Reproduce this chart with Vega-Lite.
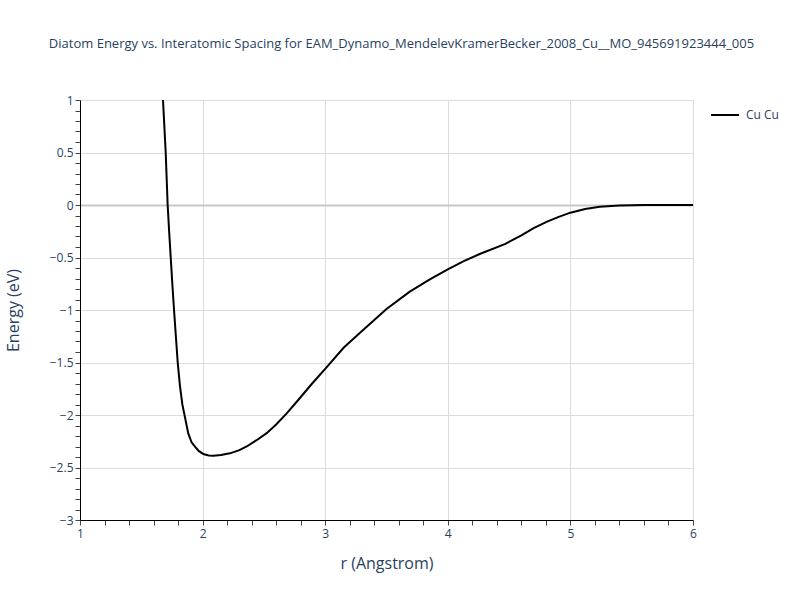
{
  "$schema": "https://vega.github.io/schema/vega-lite/v6.json",
  "width": 613,
  "height": 420,
  "autosize": {"type": "none"},
  "padding": {"left": 80, "top": 100, "right": 107, "bottom": 80},
  "background": "white",
  "config": {
    "view": {"stroke": null},
    "font": "Open Sans"
  },
  "title": {
    "text": "Diatom Energy vs. Interatomic Spacing for EAM_Dynamo_MendelevKramerBecker_2008_Cu__MO_945691923444_005",
    "fontSize": 13,
    "fontWeight": "normal",
    "color": "#2a3f5f",
    "font": "Open Sans",
    "anchor": "middle",
    "frame": "group",
    "dx": 15,
    "offset": 43
  },
  "data": {
    "values": [
      {"r": 1.677, "E": 1.0, "s": "Cu Cu"},
      {"r": 1.688, "E": 0.75, "s": "Cu Cu"},
      {"r": 1.699, "E": 0.5, "s": "Cu Cu"},
      {"r": 1.707, "E": 0.25, "s": "Cu Cu"},
      {"r": 1.715, "E": 0.0, "s": "Cu Cu"},
      {"r": 1.727, "E": -0.25, "s": "Cu Cu"},
      {"r": 1.74, "E": -0.5, "s": "Cu Cu"},
      {"r": 1.753, "E": -0.75, "s": "Cu Cu"},
      {"r": 1.767, "E": -1.0, "s": "Cu Cu"},
      {"r": 1.782, "E": -1.25, "s": "Cu Cu"},
      {"r": 1.797, "E": -1.5, "s": "Cu Cu"},
      {"r": 1.815, "E": -1.72, "s": "Cu Cu"},
      {"r": 1.835, "E": -1.9, "s": "Cu Cu"},
      {"r": 1.856, "E": -2.02, "s": "Cu Cu"},
      {"r": 1.883, "E": -2.175, "s": "Cu Cu"},
      {"r": 1.91, "E": -2.26, "s": "Cu Cu"},
      {"r": 1.938, "E": -2.302, "s": "Cu Cu"},
      {"r": 1.97, "E": -2.345, "s": "Cu Cu"},
      {"r": 2.006, "E": -2.371, "s": "Cu Cu"},
      {"r": 2.05, "E": -2.385, "s": "Cu Cu"},
      {"r": 2.087, "E": -2.387, "s": "Cu Cu"},
      {"r": 2.15, "E": -2.38, "s": "Cu Cu"},
      {"r": 2.223, "E": -2.365, "s": "Cu Cu"},
      {"r": 2.3, "E": -2.335, "s": "Cu Cu"},
      {"r": 2.36, "E": -2.3, "s": "Cu Cu"},
      {"r": 2.44, "E": -2.24, "s": "Cu Cu"},
      {"r": 2.52, "E": -2.175, "s": "Cu Cu"},
      {"r": 2.6, "E": -2.09, "s": "Cu Cu"},
      {"r": 2.686, "E": -1.984, "s": "Cu Cu"},
      {"r": 2.78, "E": -1.857, "s": "Cu Cu"},
      {"r": 2.89, "E": -1.705, "s": "Cu Cu"},
      {"r": 3.0, "E": -1.56, "s": "Cu Cu"},
      {"r": 3.15, "E": -1.36, "s": "Cu Cu"},
      {"r": 3.3, "E": -1.2, "s": "Cu Cu"},
      {"r": 3.5, "E": -0.99, "s": "Cu Cu"},
      {"r": 3.69, "E": -0.825, "s": "Cu Cu"},
      {"r": 3.85, "E": -0.71, "s": "Cu Cu"},
      {"r": 4.0, "E": -0.612, "s": "Cu Cu"},
      {"r": 4.13, "E": -0.535, "s": "Cu Cu"},
      {"r": 4.26, "E": -0.467, "s": "Cu Cu"},
      {"r": 4.47, "E": -0.37, "s": "Cu Cu"},
      {"r": 4.6, "E": -0.29, "s": "Cu Cu"},
      {"r": 4.7, "E": -0.22, "s": "Cu Cu"},
      {"r": 4.81, "E": -0.159, "s": "Cu Cu"},
      {"r": 4.9, "E": -0.115, "s": "Cu Cu"},
      {"r": 5.0, "E": -0.073, "s": "Cu Cu"},
      {"r": 5.12, "E": -0.038, "s": "Cu Cu"},
      {"r": 5.24, "E": -0.016, "s": "Cu Cu"},
      {"r": 5.4, "E": -0.005, "s": "Cu Cu"},
      {"r": 5.6, "E": -0.001, "s": "Cu Cu"},
      {"r": 6.0, "E": 0.0, "s": "Cu Cu"}
    ]
  },
  "mark": {"type": "line", "strokeWidth": 2, "clip": true, "interpolate": "linear"},
  "encoding": {
    "x": {
      "field": "r",
      "type": "quantitative",
      "scale": {"domain": [1, 6], "nice": false, "zero": false},
      "axis": {
        "title": "r (Angstrom)",
        "titleFontSize": 16,
        "titleFontWeight": "normal",
        "titleColor": "#2a3f5f",
        "titlePadding": 16,
        "values": [1, 1.2, 1.4, 1.6, 1.8, 2, 2.2, 2.4, 2.6, 2.8, 3, 3.2, 3.4, 3.6, 3.8, 4, 4.2, 4.4, 4.6, 4.8, 5, 5.2, 5.4, 5.6, 5.8, 6],
        "labelExpr": "abs(datum.value - round(datum.value)) < 1e-6 ? format(datum.value, '~g') : ''",
        "labelFontSize": 12,
        "labelColor": "#2a3f5f",
        "labelPadding": 3,
        "labelFlush": false,
        "labelOverlap": false,
        "domainColor": "black",
        "domainWidth": 1,
        "tickColor": "#444",
        "tickSize": 5,
        "grid": true,
        "gridColor": "#dcdcdc",
        "gridWidth": 1,
        "gridOpacity": {"condition": {"test": "abs(datum.value - round(datum.value)) < 1e-6", "value": 1}, "value": 0}
      }
    },
    "y": {
      "field": "E",
      "type": "quantitative",
      "scale": {"domain": [-3, 1], "nice": false, "zero": false},
      "axis": {
        "title": "Energy (eV)",
        "titleFontSize": 16,
        "titleFontWeight": "normal",
        "titleColor": "#2a3f5f",
        "titlePadding": 28,
        "values": [-3, -2.9, -2.8, -2.7, -2.6, -2.5, -2.4, -2.3, -2.2, -2.1, -2, -1.9, -1.8, -1.7, -1.6, -1.5, -1.4, -1.3, -1.2, -1.1, -1, -0.9, -0.8, -0.7, -0.6, -0.5, -0.4, -0.3, -0.2, -0.1, 0, 0.1, 0.2, 0.3, 0.4, 0.5, 0.6, 0.7, 0.8, 0.9, 1],
        "labelExpr": "abs(datum.value * 2 - round(datum.value * 2)) < 1e-6 ? format(datum.value, '~g') : ''",
        "labelFontSize": 12,
        "labelColor": "#2a3f5f",
        "labelPadding": 2,
        "labelFlush": false,
        "labelOverlap": false,
        "domainColor": "black",
        "domainWidth": 1,
        "tickColor": "#444",
        "tickSize": 5,
        "grid": true,
        "gridColor": {"condition": {"test": "abs(datum.value) < 1e-6", "value": "#c8c8c8"}, "value": "#dcdcdc"},
        "gridWidth": {"condition": {"test": "abs(datum.value) < 1e-6", "value": 2}, "value": 1},
        "gridOpacity": {"condition": {"test": "abs(datum.value * 2 - round(datum.value * 2)) < 1e-6", "value": 1}, "value": 0}
      }
    },
    "color": {
      "field": "s",
      "type": "nominal",
      "scale": {"range": ["black"]},
      "legend": {
        "title": null,
        "orient": "none",
        "legendX": 630,
        "legendY": 0,
        "symbolType": "stroke",
        "symbolSize": 784,
        "symbolStrokeWidth": 2,
        "labelFontSize": 12,
        "labelColor": "#2a3f5f",
        "labelOffset": 6
      }
    }
  }
}
